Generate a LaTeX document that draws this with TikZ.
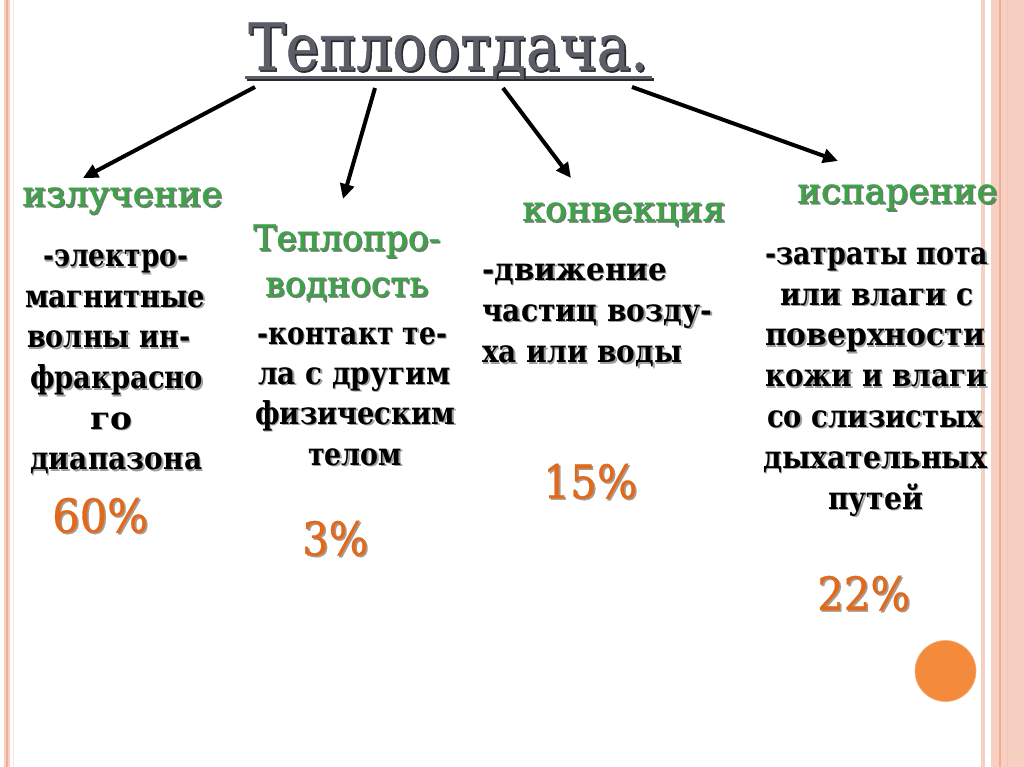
\documentclass[tikz,border=0pt]{standalone}
\usepackage{fontspec}
\setmainfont{DejaVu Serif}
\newfontfamily\semif{DejaVu Serif}[FakeBold=0.7]
\newfontfamily\titlef{DejaVu Serif}[FakeBold=0.9]
\usepackage{graphicx}
\usetikzlibrary{arrows.meta}
\newcommand\fw[2]{\resizebox{#1pt}{\height}{#2}}
\newcommand\sline[8]{%
  \node[#2,text=#3] (#1s) at (#4+#8,#5+#8) {\fw{#6}{#7}};
  \node[#2] (#1) at (#4,#5) {\fw{#6}{#7}};}
\definecolor{titlegray}{HTML}{5B5E66}
\definecolor{titlesh}{HTML}{26282D}
\definecolor{lgreen}{HTML}{3CA346}
\definecolor{pctor}{HTML}{E2691A}
\definecolor{bodysh}{HTML}{A0A0A0}
\definecolor{greensh}{HTML}{6E7A70}
\definecolor{pctsh}{HTML}{A89A90}
\definecolor{bordlight}{HTML}{F8D0C2}
\definecolor{borddark}{HTML}{EDAE9A}
\definecolor{circor}{HTML}{F48A3C}
\begin{document}
\begin{tikzpicture}[x=1pt,y=-1pt,
  lab/.style={anchor=base west, inner sep=0pt, text=lgreen, font=\fontsize{35}{40}\semif},
  body/.style={anchor=base west, inner sep=0pt, text=black, font=\fontsize{31.5}{35}\selectfont\bfseries},
  pct/.style={anchor=base west, inner sep=0pt, text=pctor, font=\fontsize{46}{54}\semif},
  ttl/.style={anchor=base west, inner sep=0pt, text=titlegray, font=\fontsize{65}{70}\titlef},
  arr/.style={line width=4pt, -{Triangle[length=15pt,width=14pt]}}]
\useasboundingbox (0,0) rectangle (1024,767);
\fill[white] (0,0) rectangle (1024,767);
% borders
\fill[bordlight] (4,0) rectangle (10,767);
\draw[borddark, line width=1.5pt] (7,0) -- (7,767);
\draw[bordlight!60, line width=1pt] (13.5,0) -- (13.5,767);
\fill[bordlight] (981,0) rectangle (985,767);
\fill[bordlight] (991,0) rectangle (1024,767);
\draw[borddark, line width=1.5pt] (1000,0) -- (1000,767);
\draw[borddark!70, line width=1pt] (1007,0) -- (1007,767);
% circle
\fill[circor] (945.5,671) circle (30.5);
\draw[circor!70!white, line width=0.6pt] (945.5,671) circle (30.5);
% title
\draw[titlesh, line width=3pt] (246.5,79.5) -- (653.5,79.5);
\draw[titlegray, line width=3pt] (245,78) -- (652,78);
\sline{title}{ttl}{titlesh}{248}{70}{400}{Теплоотдача.}{1.6}
% column 1
\sline{lab1}{lab}{greensh}{22}{206}{200}{излучение}{1.5}
\foreach \tx/\xx/\yy/\ww [count=\i] in {-электро-/43/266.5/145, магнитные/25/307/180, волны ин-/27/347.5/163, фракрасно/30/388.5/173, го/90/429/42, диапазона/30/469.5/172}
  {\sline{c1l\i}{body}{bodysh}{\xx}{\yy}{\ww}{\tx}{1.5}}
\sline{p1}{pct}{pctsh}{52}{532}{96}{60\%}{1.6}
% column 2
\sline{lab2a}{lab}{greensh}{253}{250}{187}{Теплопро-}{1.5}
\sline{lab2b}{lab}{greensh}{265}{296}{163}{водность}{1.5}
\foreach \tx/\xx/\yy/\ww [count=\i] in {-контакт те-/257/344/190, ла с другим/258/384/192, физическим/255/424/200, телом/308/465/94}
  {\sline{c2l\i}{body}{bodysh}{\xx}{\yy}{\ww}{\tx}{1.5}}
\sline{p2}{pct}{pctsh}{302}{555}{66}{3\%}{1.6}
% column 3
\sline{lab3}{lab}{greensh}{522}{221}{203}{конвекция}{1.5}
\foreach \tx/\xx/\yy/\ww [count=\i] in {-движение/482/280/185, частиц возду-/482/321/230, ха или воды/482/362.5/200}
  {\sline{c3l\i}{body}{bodysh}{\xx}{\yy}{\ww}{\tx}{1.5}}
\sline{p3}{pct}{pctsh}{543}{498}{94}{15\%}{1.6}
% column 4
\sline{lab4}{lab}{greensh}{797}{203}{200}{испарение}{1.5}
\foreach \tx/\xx/\yy/\ww [count=\i] in {-затраты пота/765/264/223, или влаги с/780/305/193, поверхности/765/345.5/220, кожи и влаги/765/386.5/222, со слизистых/767/427/216, дыхательных/763/468/224, путей/828/509/95}
  {\sline{c4l\i}{body}{bodysh}{\xx}{\yy}{\ww}{\tx}{1.5}}
\sline{p4}{pct}{pctsh}{817}{610}{93}{22\%}{1.6}
% arrows
\coordinate (s1) at (255,87);  \coordinate (e1) at (83,178);
\coordinate (s2) at (375,88);  \coordinate (e2) at (343,199);
\coordinate (s3) at (503,88);  \coordinate (e3) at (571,178);
\coordinate (s4) at (632,87);  \coordinate (e4) at (838,161);
\draw[arr] (s1) -- (e1);
\draw[arr] (s2) -- (e2);
\draw[arr] (s3) -- (e3);
\draw[arr] (s4) -- (e4);
\end{tikzpicture}
\end{document}
